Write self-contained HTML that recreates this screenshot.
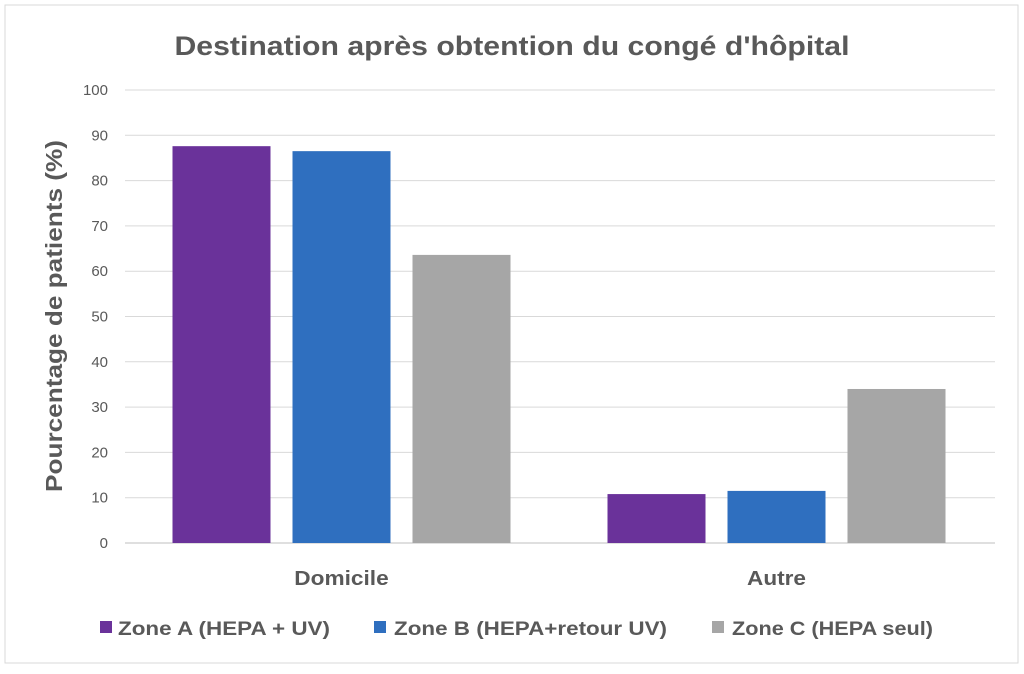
<!DOCTYPE html>
<html><head><meta charset="utf-8"><style>
body{margin:0;background:#fff}
svg text{font-family:"Liberation Sans",sans-serif;fill:#595959}
</style></head><body>
<svg id="chart" width="1024" height="669">
<rect x="5" y="5" width="1013" height="658" fill="#fff" stroke="#d9d9d9"/>
<text x="512" y="55" font-size="27" font-weight="bold" text-anchor="middle" textLength="675" lengthAdjust="spacingAndGlyphs">Destination après obtention du congé d'hôpital</text>
<text transform="translate(62,316) rotate(-90)" font-size="23" font-weight="bold" text-anchor="middle" textLength="352" lengthAdjust="spacingAndGlyphs">Pourcentage de patients (%)</text>
<g id="grid"></g><g id="bars"></g><g id="labels"></g>
<g>
<rect x="100" y="621" width="12" height="12" fill="#6a329a"/>
<text x="118" y="635" font-size="19" font-weight="bold" textLength="212" lengthAdjust="spacingAndGlyphs">Zone A (HEPA + UV)</text>
<rect x="374" y="621" width="12" height="12" fill="#2f6fbf"/>
<text x="394" y="635" font-size="19" font-weight="bold" textLength="273" lengthAdjust="spacingAndGlyphs">Zone B (HEPA+retour UV)</text>
<rect x="712" y="621" width="12" height="12" fill="#a6a6a6"/>
<text x="732" y="635" font-size="19" font-weight="bold" textLength="201" lengthAdjust="spacingAndGlyphs">Zone C (HEPA seul)</text>
</g>
</svg>
<script>
const categories=["Domicile","Autre"];
const zoneA=[87.6,10.8];
const zoneB=[86.5,11.5];
const zoneC=[63.6,34.0];
const yTicks=[0,10,20,30,40,50,60,70,80,90,100];
const NS="http://www.w3.org/2000/svg";
const x0=125,x1=995,yBase=543,yTop=90;
const y=v=>yBase-(v/100)*(yBase-yTop);
function mk(t,a,p){const e=document.createElementNS(NS,t);for(const k in a)e.setAttribute(k,a[k]);p.appendChild(e);return e;}
const grid=document.getElementById('grid');
yTicks.forEach(v=>{
 const l=mk('line',{x1:x0,x2:x1,y1:y(v),y2:y(v),stroke:v===0?'#bfbfbf':'#d9d9d9','stroke-width':1},grid);
 
 
 const t=mk('text',{x:108,y:y(v)+5,'font-size':15,'text-anchor':'end'},grid);
 t.textContent=v;
 
 
});
const series=[zoneA,zoneB,zoneC],colors=['#6a329a','#2f6fbf','#a6a6a6'],sn=['a','b','c'];
const bars=document.getElementById('bars'),labels=document.getElementById('labels');
const gw=(x1-x0)/categories.length,bw=98,gap=22;
categories.forEach((c,i)=>{
 const cx=x0+gw*(i+0.5);
 series.forEach((s,j)=>{
  const bx=cx-(bw*1.5+gap)+j*(bw+gap)-1;
  const r=mk('rect',{x:bx,y:y(s[i]),width:bw,height:yBase-y(s[i]),fill:colors[j]},bars);
  
  
 });
 const t=mk('text',{x:cx-1,y:585,'font-size':20,'font-weight':'bold','text-anchor':'middle',textLength:c.length*11.8,lengthAdjust:'spacingAndGlyphs'},labels);
 t.textContent=c;
 
 
});
</script>
</body></html>
